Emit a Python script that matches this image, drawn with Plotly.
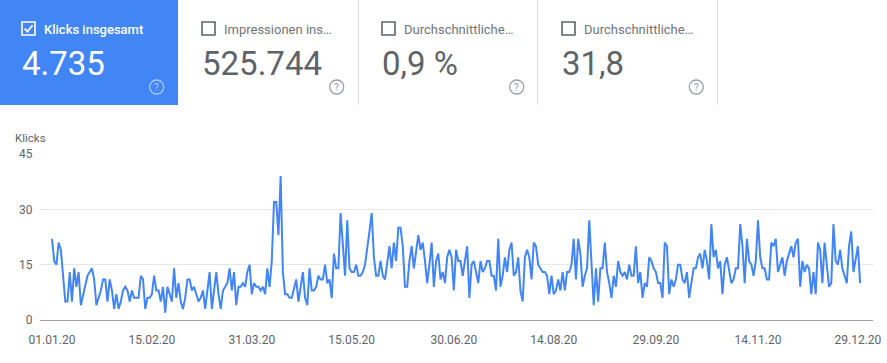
import plotly.graph_objects as go
import pandas as pd

# ---- data ----
clicks = [
    22, 16, 15, 21, 19, 12, 5, 5, 13, 5, 14, 9, 13, 4, 7, 10, 12, 13, 14, 11,
    4, 6, 8, 11, 11, 5, 11, 8, 3, 7, 3, 5, 8, 9, 8, 5, 8, 6, 6, 6,
    12, 11, 3, 6, 6, 7, 12, 8, 8, 5, 9, 2, 9, 7, 5, 14, 6, 10, 5, 3,
    6, 11, 11, 8, 9, 7, 5, 6, 8, 3, 8, 13, 3, 8, 13, 7, 3, 8, 9, 10,
    14, 8, 13, 4, 9, 9, 10, 9, 13, 15, 7, 10, 9, 9, 8, 9, 7, 14, 9, 16,
    32, 32, 23, 39, 13, 7, 7, 6, 6, 9, 11, 5, 9, 13, 6, 4, 14, 8, 8, 9,
    12, 11, 11, 15, 10, 11, 6, 18, 14, 14, 29, 20, 12, 27, 14, 13, 13, 15, 12, 12,
    13, 15, 19, 24, 29, 17, 12, 12, 16, 12, 11, 15, 20, 14, 21, 16, 25, 25, 20, 9,
    9, 16, 20, 14, 18, 23, 19, 21, 16, 10, 15, 21, 9, 16, 18, 11, 13, 10, 17, 19,
    17, 8, 19, 16, 16, 12, 16, 20, 6, 15, 16, 13, 10, 16, 13, 14, 16, 16, 12, 12,
    8, 22, 9, 12, 17, 13, 19, 21, 12, 13, 17, 8, 5, 17, 19, 17, 11, 21, 20, 15,
    14, 13, 13, 12, 7, 12, 7, 8, 11, 8, 13, 8, 13, 13, 15, 22, 11, 22, 18, 9,
    12, 14, 27, 15, 4, 14, 5, 14, 14, 21, 13, 10, 6, 12, 9, 16, 13, 12, 13, 11,
    15, 12, 12, 20, 10, 13, 6, 10, 9, 17, 16, 14, 13, 10, 10, 6, 21, 20, 7, 11,
    9, 11, 15, 15, 11, 10, 13, 6, 10, 14, 14, 17, 18, 14, 19, 16, 11, 26, 17, 19,
    14, 16, 7, 15, 17, 13, 10, 11, 14, 14, 26, 20, 10, 22, 16, 15, 12, 16, 27, 17,
    14, 14, 11, 11, 21, 20, 22, 13, 15, 17, 12, 16, 18, 20, 17, 21, 22, 9, 16, 13,
    15, 14, 7, 13, 7, 21, 19, 10, 21, 14, 9, 10, 26, 16, 15, 19, 14, 12, 10, 20,
    24, 13, 17, 20, 10,
]
start_date = "2020-01-01"
tick_dates = ["2020-01-01", "2020-02-15", "2020-03-31", "2020-05-15", "2020-06-30",
              "2020-08-14", "2020-09-29", "2020-11-14", "2020-12-29"]
tick_labels = ["01.01.20", "15.02.20", "31.03.20", "15.05.20", "30.06.20",
               "14.08.20", "29.09.20", "14.11.20", "29.12.20"]
y_ticks = [0, 15, 30, 45]
y_axis_title = "Klicks"

card_labels = ["Klicks insgesamt", "Impressionen ins…", "Durchschnittliche…", "Durchschnittliche…"]
card_values = ["4.735", "525.744", "0,9 %", "31,8"]
card_checked = [True, False, False, False]

# ---- layout geometry (pixels) ----
W, H = 887, 363
L, R, T, B = 40, 14, 154, 43
PW, PH = W - L - R, H - T - B


def px(x):
    return (x - L) / PW


def py(y):
    return (H - B - y) / PH


dates = pd.date_range(start_date, periods=len(clicks), freq="D")
d0 = pd.Timestamp(start_date)
x_range = [d0 - pd.Timedelta(hours=5.4 * 24), d0 + pd.Timedelta(hours=369.8 * 24)]

BLUE = "#4285f4"
GREY = "#5f6368"

fig = go.Figure()
fig.add_trace(go.Scatter(x=dates, y=clicks, mode="lines",
                         line=dict(color=BLUE, width=2), hoverinfo="skip"))

shapes = []
annotations = []

# cards: (left edge, right edge, checkbox x, help icon centre x)
cards = [(0, 178, 22, 156.7), (178, 358, 202, 336.7),
         (358, 537, 382, 516.7), (537, 717, 562, 696.3)]
for i, (x0, x1, cb_x, cx) in enumerate(cards):
    if i == 0:
        shapes.append(dict(type="rect", xref="paper", yref="paper",
                           x0=px(x0), x1=px(x1), y0=py(105), y1=py(0),
                           fillcolor=BLUE, line=dict(width=0), layer="below"))
    else:
        shapes.append(dict(type="line", xref="paper", yref="paper",
                           x0=px(x1 + 0.5), x1=px(x1 + 0.5), y0=py(105), y1=py(0),
                           line=dict(color="#dadce0", width=1)))
    fg = "white" if i == 0 else GREY
    # checkbox
    shapes.append(dict(type="rect", xref="paper", yref="paper",
                       x0=px(cb_x), x1=px(cb_x + 13), y0=py(35), y1=py(22),
                       line=dict(color=fg, width=1.6)))
    if card_checked[i]:
        pts = [(cb_x + 2.6, 28.6), (cb_x + 5.4, 31.6), (cb_x + 10.6, 25.2)]
        path = "M {} {} L {} {} L {} {}".format(
            px(pts[0][0]), py(pts[0][1]), px(pts[1][0]), py(pts[1][1]),
            px(pts[2][0]), py(pts[2][1]))
        shapes.append(dict(type="path", xref="paper", yref="paper", path=path,
                           line=dict(color="white", width=1.8)))
    annotations.append(dict(xref="paper", yref="paper", x=px(cb_x + 20), y=py(29),
                            xanchor="left", yanchor="middle", showarrow=False,
                            text=card_labels[i],
                            font=dict(family="Roboto", size=13,
                                      color="white" if i == 0 else "#70757a",
                                      weight=500 if i == 0 else 400)))
    annotations.append(dict(xref="paper", yref="paper", x=px(cb_x - 2), y=py(63.5),
                            xanchor="left", yanchor="middle", showarrow=False,
                            text=card_values[i],
                            font=dict(family="Roboto", size=33, color=fg)))
    # help icon
    icol = "rgba(255,255,255,0.55)" if i == 0 else "#9aa0a6"
    shapes.append(dict(type="circle", xref="paper", yref="paper",
                       x0=px(cx - 7), x1=px(cx + 7), y0=py(94), y1=py(80),
                       line=dict(color=icol, width=1.3)))
    annotations.append(dict(xref="paper", yref="paper", x=px(cx), y=py(87),
                            xanchor="center", yanchor="middle", showarrow=False,
                            text="?", font=dict(family="Roboto", size=10, color=icol)))

annotations.append(dict(xref="paper", yref="paper", x=px(13), y=py(137.5),
                        xanchor="left", yanchor="middle", showarrow=False,
                        text=y_axis_title,
                        font=dict(family="Roboto", size=11.5, color=GREY)))

fig.update_layout(
    width=W, height=H,
    margin=dict(l=L, r=R, t=T, b=B, pad=0, autoexpand=False),
    paper_bgcolor="white", plot_bgcolor="white",
    showlegend=False,
    shapes=shapes, annotations=annotations,
    xaxis=dict(range=x_range, tickvals=tick_dates, ticktext=tick_labels,
               automargin=False,
               showgrid=False, zeroline=False, showline=True,
               linecolor="#9e9e9e", linewidth=1,
               ticks="outside", ticklen=9, tickcolor="rgba(0,0,0,0)",
               tickfont=dict(family="Roboto", size=12, color=GREY)),
    yaxis=dict(range=[0, 45], tickvals=y_ticks, showgrid=True, gridcolor="#e8e8e8",
               automargin=False,
               zeroline=False, showline=False, ticks="outside", ticklen=4,
               tickcolor="rgba(0,0,0,0)",
               tickfont=dict(family="Roboto", size=12, color=GREY)),
)

fig.write_html("out.html", config={"displayModeBar": False},
               post_script="document.body.style.margin='0';")
